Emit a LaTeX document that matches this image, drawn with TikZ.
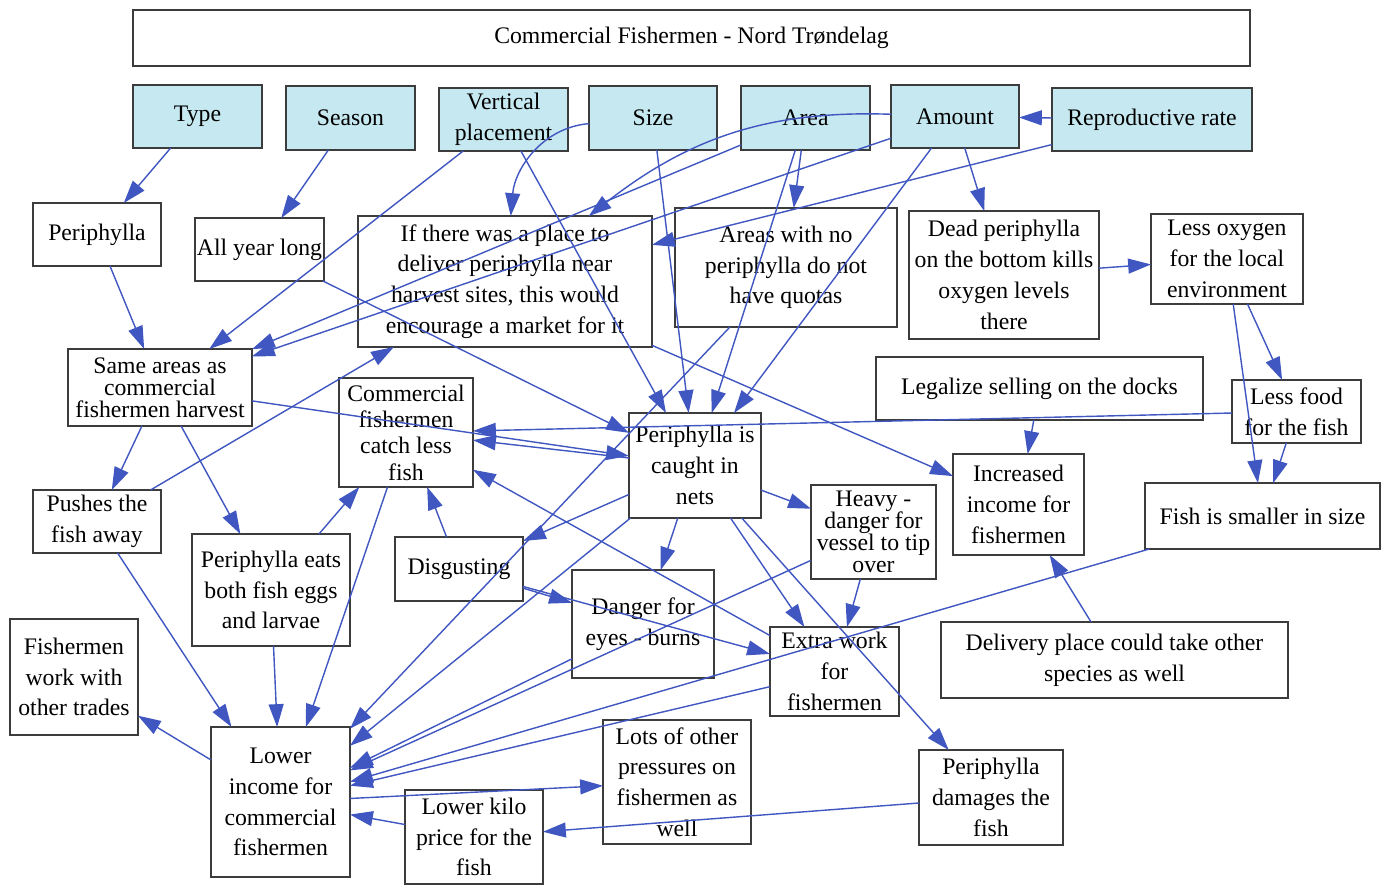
\documentclass[tikz,border=0pt]{standalone}
\usepackage{fontspec}
\setmainfont{Liberation Serif}
\usetikzlibrary{arrows.meta}
\definecolor{linkblue}{RGB}{64,86,192}
\definecolor{factfill}{RGB}{198,232,240}
\definecolor{boxline}{RGB}{60,60,60}
\tikzset{
  box/.style={draw=boxline,line width=0.8pt,align=center,inner sep=1pt,outer sep=0pt,
    font=\fontsize{13.5}{17.5}\selectfont},
  fact/.style={box,fill=factfill},
  link/.style={color=linkblue,line width=0.8pt,-{Triangle[length=13pt,width=8.5pt]}}
}
\begin{document}
\begin{tikzpicture}[x=0.02cm,y=-0.02cm]
            \useasboundingbox (0,0) rectangle (1384,886);
            \node[box,minimum width=22.34cm,minimum height=1.12cm] (title) at (691.5,38) {Commercial Fishermen - Nord Trøndelag};

            \node[fact,minimum width=2.58cm,minimum height=1.26cm] (type) at (197.5,116.5) {Type};
            \node[fact,minimum width=2.58cm,minimum height=1.28cm] (season) at (350.5,118) {Season};
            \node[fact,minimum width=2.58cm,minimum height=1.26cm] (vert) at (503.5,119.5) {Vertical\\placement};
            \node[fact,minimum width=2.56cm,minimum height=1.28cm] (size) at (653,118) {Size};
            \node[fact,minimum width=2.58cm,minimum height=1.28cm] (area) at (805.5,118) {Area};
            \node[fact,minimum width=2.56cm,minimum height=1.26cm] (amount) at (955,116.5) {Amount};
            \node[fact,minimum width=4cm,minimum height=1.26cm] (repro) at (1152,119.5) {Reproductive rate};

            \node[box,minimum width=2.56cm,minimum height=1.26cm] (periph) at (97,234.5) {Periphylla};
            \node[box,minimum width=2.58cm,minimum height=1.26cm] (allyear) at (259.5,249.5) {All year long};
            \node[box,minimum width=5.88cm,minimum height=2.62cm] (place) at (505,281.5) {If there was a place to\\deliver periphylla near\\harvest sites, this would\\encourage a market for it};
            \node[box,minimum width=4.44cm,minimum height=2.38cm] (noquota) at (786,267.5) {Areas with no\\periphylla do not\\have quotas};
            \node[box,minimum width=3.8cm,minimum height=2.56cm] (dead) at (1004,275) {Dead periphylla\\on the bottom kills\\oxygen levels\\there};
            \node[box,minimum width=3.04cm,minimum height=1.8cm] (lessoxy) at (1227,259) {Less oxygen\\for the local\\environment};

            \node[box,minimum width=3.68cm,minimum height=1.54cm,font=\fontsize{13.5}{12.5}\selectfont] (same) at (160,387.5) {Same areas as\\commercial\\fishermen harvest};
            \node[box,minimum width=2.68cm,minimum height=2.18cm,font=\fontsize{13.5}{15}\selectfont] (catchless) at (406,432.5) {Commercial\\fishermen\\catch less\\fish};
            \node[box,minimum width=2.64cm,minimum height=2.1cm] (caught) at (695,465.5) {Periphylla is\\caught in\\nets};
            \node[box,minimum width=6.54cm,minimum height=1.26cm] (legal) at (1039.5,388.5) {Legalize selling on the docks};
            \node[box,minimum width=2.58cm,minimum height=1.26cm] (lessfood) at (1296.5,411.5) {Less food\\for the fish};
            \node[box,minimum width=2.62cm,minimum height=2.02cm] (incr) at (1018.5,504.5) {Increased\\income for\\fishermen};
            \node[box,minimum width=4.7cm,minimum height=1.32cm] (smaller) at (1262.5,516) {Fish is smaller in size};
            \node[box,minimum width=2.5cm,minimum height=1.88cm,font=\fontsize{13.5}{12.5}\selectfont] (heavy) at (873.5,532) {Heavy -\\danger for\\vessel to tip\\over};

            \node[box,minimum width=2.56cm,minimum height=1.26cm] (pushes) at (97,521.5) {Pushes the\\fish away};
            \node[box,minimum width=3.16cm,minimum height=2.24cm] (eats) at (271,590) {Periphylla eats\\both fish eggs\\and larvae};
            \node[box,minimum width=2.56cm,minimum height=1.28cm] (disg) at (459,569) {Disgusting};
            \node[box,minimum width=2.84cm,minimum height=2.16cm] (eyes) at (643,624) {Danger for\\eyes - burns};
            \node[box,minimum width=2.58cm,minimum height=1.78cm] (extra) at (834.5,671.5) {Extra work\\for\\fishermen};
            \node[box,minimum width=6.94cm,minimum height=1.52cm] (deliv) at (1114.5,660) {Delivery place could take other\\species as well};

            \node[box,minimum width=2.56cm,minimum height=2.32cm] (trades) at (74,677) {Fishermen\\work with\\other trades};
            \node[box,minimum width=2.78cm,minimum height=3cm] (lowinc) at (280.5,802) {Lower\\income for\\commercial\\fishermen};
            \node[box,minimum width=2.96cm,minimum height=2.48cm] (press) at (677,782) {Lots of other\\pressures on\\fishermen as\\well};
            \node[box,minimum width=2.76cm,minimum height=1.88cm] (kilo) at (474,837) {Lower kilo\\price for the\\fish};
            \node[box,minimum width=2.88cm,minimum height=1.9cm] (damage) at (991,797.5) {Periphylla\\damages the\\fish};

            \path[link] (type) edge (periph)
                   (season) edge (allyear)
                   (vert) edge (same)
                   (vert) edge (caught)
                   (size) edge[out=185,in=85] (place)
                   (size) edge (caught)
                   (area) edge (same)
                   (area) edge (noquota)
                   (area) edge (caught)
                   (amount) edge[out=178,in=38] (place)
                   (amount) edge (same)
                   (amount) edge (caught)
                   (amount) edge (dead)
                   (repro) edge (amount)
                   (repro) edge (place)
                   (periph) edge (same)
                   (allyear) edge (caught)
                   (place) edge (incr)
                   (noquota) edge (lowinc)
                   (dead) edge (lessoxy)
                   (lessoxy) edge (lessfood)
                   (lessoxy) edge (smaller)
                   (lessfood) edge (smaller)
                   (lessfood) edge (catchless)
                   (same) edge (pushes)
                   (same) edge (eats)
                   (same) edge (caught)
                   (pushes) edge (place)
                   (pushes) edge (lowinc)
                   (eats) edge (catchless)
                   (eats) edge (lowinc)
                   (catchless) edge (lowinc)
                   (disg) edge (catchless)
                   (disg) edge (eyes)
                   (disg) edge (extra)
                   (caught) edge (catchless)
                   (caught) edge (disg)
                   (caught) edge (eyes)
                   (caught) edge (heavy)
                   (caught) edge (extra)
                   (caught) edge (damage)
                   (caught) edge (lowinc)
                   (heavy) edge (extra)
                   (heavy) edge (lowinc)
                   (eyes) edge (lowinc)
                   (extra) edge (catchless)
                   (extra) edge (lowinc)
                   (smaller) edge (lowinc)
                   (legal) edge (incr)
                   (deliv) edge (incr)
                   (lowinc) edge (trades)
                   (lowinc) edge (press)
                   (kilo) edge (lowinc)
                   (damage) edge (kilo);
\end{tikzpicture}
\end{document}
